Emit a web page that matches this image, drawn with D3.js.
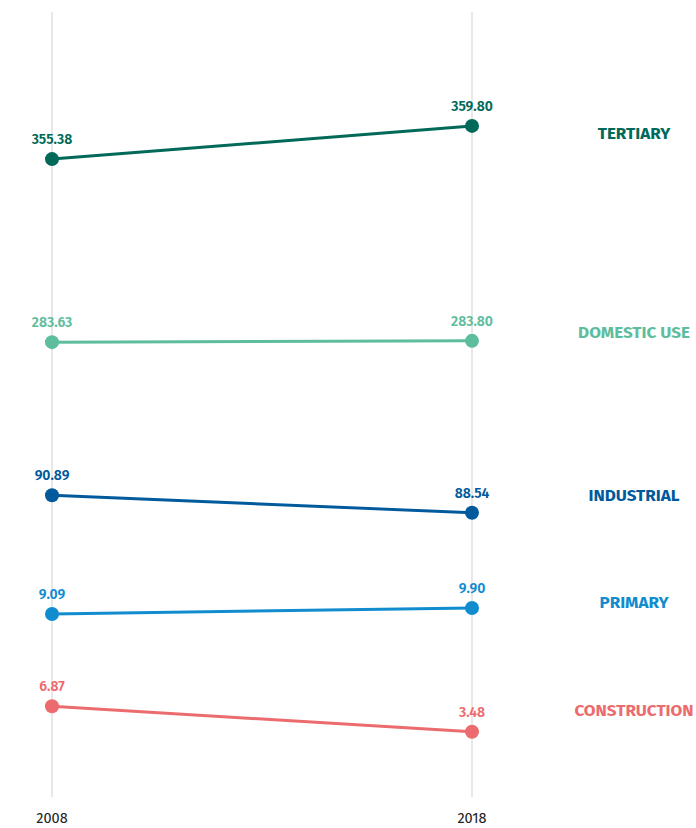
<!DOCTYPE html>
<html><head><meta charset="utf-8">
<script src="https://cdn.jsdelivr.net/npm/d3@7"></script>
<style>body{margin:0;background:#fff}svg{display:block}</style>
</head><body>
<script>
const years = ["2008", "2018"];
const sectors = ["TERTIARY", "DOMESTIC USE", "INDUSTRIAL", "PRIMARY", "CONSTRUCTION"];
const values2008 = [355.38, 283.63, 90.89, 9.09, 6.87];
const values2018 = [359.80, 283.80, 88.54, 9.90, 3.48];
const colors = ["#00695a", "#5dbd9d", "#005a9c", "#118ccf", "#ec6b6e"];

const W = 696, H = 828;
const svg = d3.select("body").append("svg").attr("width", W).attr("height", H)
  .style("font-family", "'Fira Sans','Noto Sans',sans-serif");

const x = d3.scalePoint().domain(years).range([52, 472]);
// each sector sits in its own band; inside a band values share one px-per-unit scale
const bandCenter = d3.scaleOrdinal().domain(sectors).range([142.5, 341.5, 504, 611, 719]);
const dev = d3.scaleLinear().domain([-1, 1]).range([7.5, -7.5]);

const data = sectors.map((s, i) => {
  const mean = (values2008[i] + values2018[i]) / 2;
  return {
    name: s, color: colors[i],
    pts: [values2008[i], values2018[i]].map((v, j) => ({year: years[j], v, y: bandCenter(s) + dev(v - mean)}))
  };
});

// gridlines
svg.append("g").selectAll("line").data(years).join("line")
  .attr("x1", d => x(d)).attr("x2", d => x(d)).attr("y1", 12).attr("y2", 797)
  .attr("stroke", "#e8e8e8").attr("stroke-width", 2);

// year labels
svg.append("g").selectAll("text").data(years).join("text")
  .attr("x", d => x(d)).attr("y", 823).attr("text-anchor", "middle")
  .attr("font-size", 14.5).attr("fill", "#222").text(d => d);

const g = svg.append("g").selectAll("g").data(data).join("g");
g.append("path")
  .attr("d", d => d3.line().x(p => x(p.year)).y(p => p.y)(d.pts))
  .attr("stroke", d => d.color).attr("stroke-width", 3).attr("fill", "none");
g.selectAll("circle").data(d => d.pts.map(p => ({...p, color: d.color}))).join("circle")
  .attr("cx", p => x(p.year)).attr("cy", p => p.y).attr("r", 7).attr("fill", p => p.color);
g.selectAll("text.val").data(d => d.pts.map(p => ({...p, color: d.color}))).join("text")
  .attr("class", "val")
  .attr("x", p => x(p.year)).attr("y", p => p.y - 15).attr("text-anchor", "middle")
  .attr("font-size", 14).attr("font-weight", 600).attr("fill", p => p.color)
  .text(p => p.v.toFixed(2));
g.append("text")
  .attr("x", 634).attr("y", d => d3.mean(d.pts, p => p.y) - 9).attr("dy", "0.35em")
  .attr("text-anchor", "middle").attr("font-size", 17).attr("font-weight", 700)
  .attr("fill", d => d.color).text(d => d.name);
</script>
</body></html>
